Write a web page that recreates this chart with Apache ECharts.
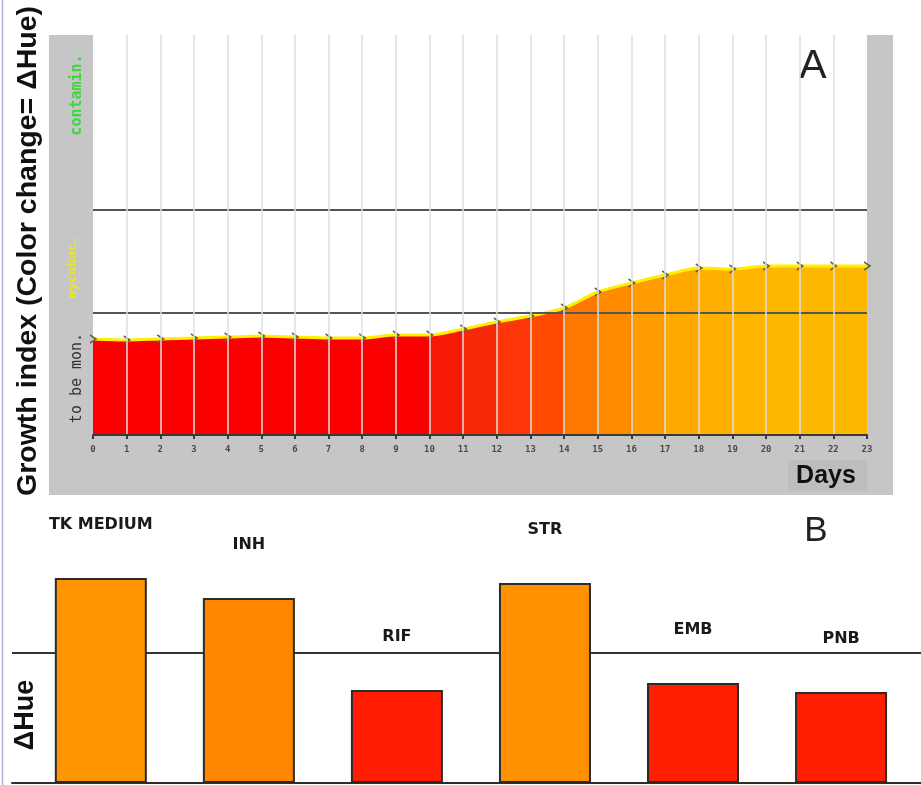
<!DOCTYPE html>
<html><head><meta charset="utf-8">
<script src="https://cdn.jsdelivr.net/npm/echarts@6/dist/echarts.min.js"></script>
<style>html,body{margin:0;padding:0;background:#fff}#c{width:921px;height:785px}</style>
</head><body><div id="c"></div>
<script>
// ---- data (panel A) ----
const days = [0,1,2,3,4,5,6,7,8,9,10,11,12,13,14,15,16,17,18,19,20,21,22,23];
const growthIndex = [96,95,96,97,98,99,98,97,97,100,100,106,113,119,127,143,152,160,167,166,169,169,169,169];
const thresholds = [122, 225];
const zoneLabels = ['contamin.', 'mycobac.', 'to be mon.'];
// ---- data (panel B) ----
const drugs = ['TK MEDIUM','INH','RIF','STR','EMB','PNB'];
const deltaHue = [205,185,93,200,100,91];
const deltaHueThreshold = 130;

// styles
const columnColors = ['#fb0000','#fb0000','#fb0000','#fb0000','#fb0000','#fb0000','#fb0000','#fb0000','#fb0000','#fb0000',
  '#f61a06','#f52808','#fc3608','#ff4a00','#ff7800','#ff8a00','#ff9c00','#ffa800','#ffb000','#ffb600','#ffb800','#ffb800','#ffb800'];
const barColors = ['#ff9500','#ff8700','#ff1c00','#ff9000','#ff1f00','#ff1d00'];

const stops = [];
columnColors.forEach((c, i) => {
  stops.push({offset: i / 23, color: c});
  stops.push({offset: (i + 1) / 23 - 0.0001, color: c});
});

const chart = echarts.init(document.getElementById('c'));
const gray = '#c6c6c6';
chart.setOption({
  animation: false,
  backgroundColor: '#fff',
  grid: [
    {left: 93, top: 35, width: 774, height: 400},
    {left: 12, right: 0, top: 523, height: 260}
  ],
  xAxis: [
    {type: 'value', gridIndex: 0, min: 0, max: 23, interval: 1, z: 10,
     axisLine: {show: true, onZero: false, lineStyle: {color: '#3a3a3a', width: 2}},
     axisTick: {show: true, length: 4, lineStyle: {color: '#3a3a3a', width: 2}},
     axisLabel: {color: '#4a4a4a', fontFamily: 'DejaVu Sans Mono', fontSize: 9, fontWeight: 'bold', margin: 10},
     splitLine: {show: true, showMinLine: false, showMaxLine: false, lineStyle: {color: 'rgba(222,222,222,0.75)', width: 2}}},
    {type: 'value', gridIndex: 1, min: -0.6, max: 5.54,
     axisLine: {show: true, onZero: false, lineStyle: {color: '#2e2e2e', width: 2}},
     axisTick: {show: false}, axisLabel: {show: false}, splitLine: {show: false}}
  ],
  yAxis: [
    {type: 'value', gridIndex: 0, min: 0, max: 400, show: false},
    {type: 'value', gridIndex: 1, min: 0, max: 260, interval: 130,
     axisLine: {show: false}, axisTick: {show: false}, axisLabel: {show: false},
     splitLine: {show: true, showMinLine: false, showMaxLine: false, lineStyle: {color: '#333', width: 2}}}
  ],
  graphic: [
    {type: 'rect', z: 0, shape: {x: 49, y: 35, width: 44, height: 460}, style: {fill: gray}},
    {type: 'rect', z: 0, shape: {x: 867, y: 35, width: 26, height: 460}, style: {fill: gray}},
    {type: 'rect', z: 0, shape: {x: 93, y: 435, width: 774, height: 60}, style: {fill: gray}},
    {type: 'rect', z: 1, shape: {x: 788, y: 460, width: 79, height: 31}, style: {fill: '#bdbdbd'}},
    {type: 'line', z: 1, shape: {x1: 2.5, y1: 0, x2: 2.5, y2: 785}, style: {stroke: '#b0b0e0', lineWidth: 1.5}},
    {type: 'text', z: 2, x: 826, y: 476, style: {text: 'Days', font: 'bold 25px "Liberation Sans", Arial', fill: '#111', align: 'center', verticalAlign: 'middle'}},
    {type: 'text', z: 2, x: 813, y: 67, style: {text: 'A', font: '41px "Liberation Sans", Arial', fill: '#222', align: 'center', verticalAlign: 'middle'}},
    {type: 'text', z: 2, x: 816, y: 531, style: {text: 'B', font: '35px "Liberation Sans", Arial', fill: '#222', align: 'center', verticalAlign: 'middle'}},
    {type: 'text', z: 2, x: 28, y: 251, rotation: Math.PI / 2, style: {text: 'Growth index (Color change= \u0394Hue)', font: 'bold 28.5px "Liberation Sans", Arial', fill: '#111', align: 'center', verticalAlign: 'middle'}},
    {type: 'text', z: 2, x: 26, y: 715, rotation: Math.PI / 2, style: {text: '\u0394Hue', font: 'bold 27px "Liberation Sans", Arial', fill: '#111', align: 'center', verticalAlign: 'middle'}},
    {type: 'text', z: 2, x: 77, y: 95, rotation: Math.PI / 2, style: {text: zoneLabels[0], font: 'bold 15px "DejaVu Sans Mono", monospace', fill: '#3ad83a', align: 'center', verticalAlign: 'middle'}},
    {type: 'text', z: 2, x: 73, y: 267, rotation: Math.PI / 2, style: {text: zoneLabels[1], font: 'bold 13px "DejaVu Sans Mono", monospace', fill: '#e8e81c', align: 'center', verticalAlign: 'middle'}},
    {type: 'text', z: 2, x: 77, y: 378, rotation: Math.PI / 2, style: {text: zoneLabels[2], font: '15px "DejaVu Sans Mono", monospace', fill: '#333', align: 'center', verticalAlign: 'middle'}}
  ],
  series: [
    {type: 'line', xAxisIndex: 0, yAxisIndex: 0, z: 2,
     data: days.map((d, i) => [d, growthIndex[i]]),
     smooth: 0.25,
     symbol: 'path://M0,0L6,4L0,8', symbolSize: [6, 8], showSymbol: true,
     itemStyle: {color: 'rgba(0,0,0,0)', borderColor: '#5f5f40', borderWidth: 1.5},
     lineStyle: {color: '#fff000', width: 3},
     areaStyle: {opacity: 1, color: new echarts.graphic.LinearGradient(0, 0, 1, 0, stops)},
     markLine: {silent: true, symbol: 'none', label: {show: false},
       lineStyle: {color: '#555', width: 2, type: 'solid'},
       data: thresholds.map(v => ({yAxis: v}))}
    },
    {type: 'bar', xAxisIndex: 1, yAxisIndex: 1, z: 3,
     data: drugs.map((d, i) => ({value: [i, deltaHue[i]], itemStyle: {color: barColors[i]}})),
     barWidth: 92,
     itemStyle: {borderColor: '#2b2b2b', borderWidth: 2},
     label: {show: true, position: 'top', distance: 45,
       formatter: p => drugs[p.dataIndex],
       color: '#1a1a1a', fontFamily: '"DejaVu Sans", Arial', fontWeight: 'bold', fontSize: 16}
    }
  ]
});
</script></body></html>
